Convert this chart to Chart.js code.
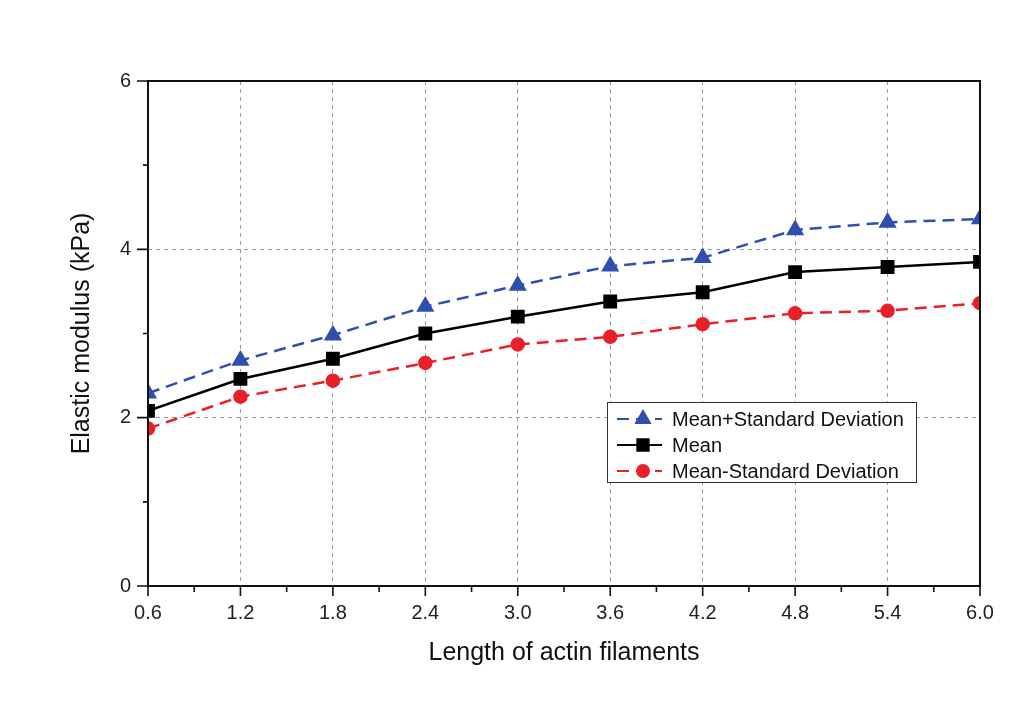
<!DOCTYPE html>
<html>
<head>
<meta charset="utf-8">
<title>Elastic modulus vs actin filament length</title>
<script src="https://cdn.jsdelivr.net/npm/chart.js@4/dist/chart.umd.min.js"></script>
<style>
  html, body { margin: 0; padding: 0; background: #fff; }
  canvas { display: block; }
</style>
</head>
<body>
<canvas id="modulusChart" width="1029" height="712"></canvas>
<script>
// filament lengths and the three modulus curves (kPa)
const lengths = [0.6, 1.2, 1.8, 2.4, 3.0, 3.6, 4.2, 4.8, 5.4, 6.0];
const meanPlusSD = [2.29, 2.68, 2.98, 3.32, 3.57, 3.80, 3.90, 4.23, 4.32, 4.36];
const meanValues = [2.08, 2.46, 2.70, 3.00, 3.20, 3.38, 3.49, 3.73, 3.79, 3.85];
const meanMinusSD = [1.87, 2.25, 2.44, 2.65, 2.87, 2.96, 3.11, 3.24, 3.27, 3.36];

const xTicks = [0.6, 1.2, 1.8, 2.4, 3.0, 3.6, 4.2, 4.8, 5.4, 6.0];
const yTicks = [0, 2, 4, 6];

const FONT = "'Liberation Sans', Arial, sans-serif";
const BLUE = '#2f4fb0';
const RED = '#e8202a';

const toPoints = (ys) => ys.map((y, i) => ({ x: lengths[i], y: y }));

// frame around the plot plus major/minor tick marks pointing outwards
const framePlugin = {
    id: 'frame',
    afterDatasetsDraw(chart) {
        const { ctx, chartArea: a, scales } = chart;
        ctx.save();
        ctx.strokeStyle = '#111';
        ctx.lineWidth = 2;
        ctx.strokeRect(a.left, a.top, a.right - a.left, a.bottom - a.top);

        ctx.lineWidth = 1.6;
        ctx.beginPath();
        xTicks.forEach((v, i) => {
            const px = scales.x.getPixelForValue(v);
            ctx.moveTo(px, a.bottom);
            ctx.lineTo(px, a.bottom + 10);
            if (i < xTicks.length - 1) {
                const mx = scales.x.getPixelForValue((v + xTicks[i + 1]) / 2);
                ctx.moveTo(mx, a.bottom);
                ctx.lineTo(mx, a.bottom + 6);
            }
        });
        yTicks.forEach((v, i) => {
            const py = scales.y.getPixelForValue(v);
            ctx.moveTo(a.left, py);
            ctx.lineTo(a.left - 11, py);
            if (i < yTicks.length - 1) {
                const my = scales.y.getPixelForValue((v + yTicks[i + 1]) / 2);
                ctx.moveTo(a.left, my);
                ctx.lineTo(a.left - 5, my);
            }
        });
        ctx.stroke();
        ctx.restore();
    }
};

// boxed legend sitting inside the plot, lower right
const boxLegend = {
    id: 'boxLegend',
    afterDraw(chart) {
        const { ctx, chartArea: a } = chart;
        const bx = a.right - 373, by = a.top + 321, bw = 309, bh = 80;
        ctx.save();
        ctx.fillStyle = '#fff';
        ctx.fillRect(bx, by, bw, bh);
        ctx.strokeStyle = '#333';
        ctx.lineWidth = 1;
        ctx.strokeRect(bx + 0.5, by + 0.5, bw, bh);

        ctx.font = '20px ' + FONT;
        ctx.textBaseline = 'middle';
        chart.data.datasets.forEach((ds, i) => {
            const y = by + 17 + i * 26;
            ctx.strokeStyle = ds.borderColor;
            ctx.lineWidth = 2;
            ctx.setLineDash(ds.borderDash || []);
            ctx.beginPath();
            ctx.moveTo(bx + 10, y);
            ctx.lineTo(bx + 55, y);
            ctx.stroke();
            ctx.setLineDash([]);
            ctx.fillStyle = ds.pointBackgroundColor;
            ctx.strokeStyle = ds.pointBorderColor;
            Chart.helpers.drawPoint(ctx, {
                pointStyle: ds.pointStyle,
                radius: ds.pointRadius,
                borderWidth: 1
            }, bx + 36, y);
            ctx.fillStyle = '#111';
            ctx.fillText(ds.label, bx + 65, y + 1);
        });
        ctx.restore();
    }
};

const gridColor = (ctx) => {
    const v = ctx.tick && ctx.tick.value;
    const s = ctx.scale;
    if (v === undefined || v <= s.min + 1e-9 || v >= s.max - 1e-9) return 'rgba(0,0,0,0)';
    return '#9a9a9a';
};

const ctx = document.getElementById('modulusChart').getContext('2d');
const modulusChart = new Chart(ctx, {
    type: 'line',
    data: {
        datasets: [
            {
                label: 'Mean+Standard Deviation',
                data: toPoints(meanPlusSD),
                borderColor: BLUE,
                borderWidth: 2.5,
                borderDash: [12, 7],
                pointStyle: 'triangle',
                pointRadius: 8,
                pointBackgroundColor: BLUE,
                pointBorderColor: BLUE,
                tension: 0
            },
            {
                label: 'Mean',
                data: toPoints(meanValues),
                borderColor: '#000',
                borderWidth: 2.5,
                pointStyle: 'rect',
                pointRadius: 8,
                pointBackgroundColor: '#000',
                pointBorderColor: '#000',
                tension: 0
            },
            {
                label: 'Mean-Standard Deviation',
                data: toPoints(meanMinusSD),
                borderColor: RED,
                borderWidth: 2.5,
                borderDash: [12, 7],
                pointStyle: 'circle',
                pointRadius: 6,
                pointBackgroundColor: RED,
                pointBorderColor: RED,
                tension: 0
            }
        ]
    },
    options: {
        responsive: false,
        animation: false,
        layout: { padding: { top: 81, right: 49, left: 0, bottom: 0 } },
        plugins: {
            legend: { display: false },
            tooltip: { enabled: false }
        },
        scales: {
            x: {
                type: 'linear',
                min: 0.6,
                max: 6.0,
                afterBuildTicks: (scale) => { scale.ticks = xTicks.map(v => ({ value: v })); },
                afterFit: (scale) => { scale.height = 126; },
                ticks: {
                    color: '#222',
                    font: { family: FONT, size: 20 },
                    padding: 15,
                    maxRotation: 0,
                    autoSkip: false,
                    callback: (v) => Number(v).toFixed(1)
                },
                grid: { color: gridColor, lineWidth: 1, drawTicks: false },
                border: { display: false, dash: [4, 4] },
                title: {
                    display: true,
                    text: 'Length of actin filaments',
                    color: '#111',
                    font: { family: FONT, size: 25 },
                    padding: { top: 0, bottom: 44 }
                }
            },
            y: {
                min: 0,
                max: 6,
                afterBuildTicks: (scale) => { scale.ticks = yTicks.map(v => ({ value: v })); },
                afterFit: (scale) => { scale.width = 148; },
                ticks: {
                    color: '#222',
                    font: { family: FONT, size: 20 },
                    padding: 17
                },
                grid: { color: gridColor, lineWidth: 1, drawTicks: false },
                border: { display: false, dash: [4, 4] },
                title: {
                    display: true,
                    text: 'Elastic modulus (kPa)',
                    color: '#111',
                    font: { family: FONT, size: 25 },
                    padding: { top: 67, bottom: 0 }
                }
            }
        }
    },
    plugins: [framePlugin, boxLegend]
});
</script>
</body>
</html>
